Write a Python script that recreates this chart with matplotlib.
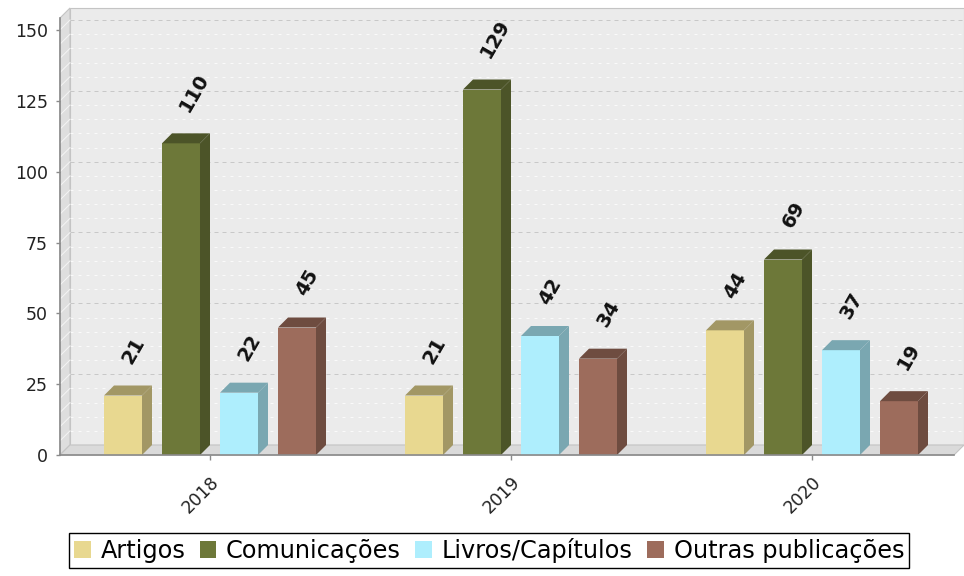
import matplotlib
matplotlib.use("Agg")
import matplotlib.pyplot as plt
from matplotlib.patches import Rectangle, Polygon, Patch
from matplotlib.colors import to_rgb

# ---------------- data ----------------
years = ["2018", "2019", "2020"]
series_names = ["Artigos", "Comunicações", "Livros/Capítulos", "Outras publicações"]
artigos = [21, 21, 44]
comunicacoes = [110, 129, 69]
livros = [22, 42, 37]
outras = [45, 34, 19]
series_values = [artigos, comunicacoes, livros, outras]
series_colors = ["#E8D890", "#6D7839", "#AEEEFD", "#9D6C5C"]
y_ticks = [0, 25, 50, 75, 100, 125, 150]

# ---------------- layout ----------------
W, H = 964, 576
DPI = 100
PX = 72.0 / DPI  # points per pixel

fig = plt.figure(figsize=(W / DPI, H / DPI), dpi=DPI)
fig.patch.set_facecolor("white")

ax_l, ax_r, ax_t, ax_b = 60, 954, 18, 455
ax = fig.add_axes([ax_l / W, (H - ax_b) / H, (ax_r - ax_l) / W, (ax_b - ax_t) / H])
ax.patch.set_alpha(0)

cat_px = 301.0
y_px_per_unit = 425.0 / 150.0
xmin = -(210 - ax_l) / cat_px
xmax = (ax_r - 210) / cat_px
ymax = (ax_b - ax_t) / y_px_per_unit
ax.set_xlim(xmin, xmax)
ax.set_ylim(0, ymax)

# depth of the 3D effect (10 px) converted to data units through the axes transform
p0 = ax.transData.transform((0, 0))
p1 = ax.transData.transform((1, 1))
ppx = p1[0] - p0[0]
ppy = p1[1] - p0[1]
depth_px = 10.0
ddx = depth_px / ppx
ddy = depth_px / ppy

# ---------------- walls ----------------
wall_edge = "#c4c4c4"
back = Rectangle((xmin + ddx, ddy), xmax - xmin, ymax, facecolor="#EBEBEB",
                 edgecolor=wall_edge, lw=0.8, zorder=0, clip_on=False)
ax.add_patch(back)
left_wall = Polygon([(xmin, 0), (xmin, ymax), (xmin + ddx, ymax + ddy), (xmin + ddx, ddy)],
                    closed=True, facecolor="#DEDEDE", edgecolor=wall_edge, lw=0.8,
                    zorder=0.5, clip_on=False)
ax.add_patch(left_wall)
floor = Polygon([(xmin, 0), (xmin + ddx, ddy), (xmax + ddx, ddy), (xmax, 0)],
                closed=True, facecolor="#DADADA", edgecolor=wall_edge, lw=0.8,
                zorder=0.5, clip_on=False)
ax.add_patch(floor)

# gridlines on the back wall (major gray dashed, minor white dashed)
for v in range(5, 155, 5):
    major = (v % 25 == 0)
    col = "#C8C8C8" if major else "#FAFAFA"
    ls = (0, (4, 4)) if major else (0, (3, 5))
    ax.plot([xmin + ddx, xmax + ddx], [v + ddy, v + ddy], color=col, lw=PX,
            linestyle=ls, zorder=0.3, clip_on=False)
    ax.plot([xmin, xmin + ddx], [v, v + ddy], color="#F4F4F4", lw=PX,
            zorder=0.6, clip_on=False)

# ---------------- bars ----------------
bar_w = 38.0 / cat_px
spacing = 58.0 / cat_px
n = len(series_values)


def darker(c, f=0.7):
    r, g, b = to_rgb(c)
    return (r * f, g * f, b * f)


for i, (vals, col) in enumerate(zip(series_values, series_colors)):
    offs = (i - (n - 1) / 2.0) * spacing
    xs = [j + offs for j in range(len(years))]
    ax.bar(xs, vals, width=bar_w, color=col, edgecolor="none", zorder=3)
    dc = darker(col)
    for xc, v in zip(xs, vals):
        x0, x1 = xc - bar_w / 2, xc + bar_w / 2
        top = Polygon([(x0, v), (x1, v), (x1 + ddx, v + ddy), (x0 + ddx, v + ddy)],
                      closed=True, facecolor=dc, edgecolor="none", zorder=3, clip_on=False)
        side = Polygon([(x1, 0), (x1, v), (x1 + ddx, v + ddy), (x1 + ddx, ddy)],
                       closed=True, facecolor=dc, edgecolor="none", zorder=3, clip_on=False)
        ax.add_patch(top)
        ax.add_patch(side)
        ax.annotate(str(v), xy=(xc, v), xytext=(3.5 * PX, 33 * PX),
                    textcoords="offset points", rotation=60, rotation_mode="anchor",
                    ha="left", va="center", fontsize=14, fontweight="bold",
                    color="#111111", zorder=5, annotation_clip=False)

# ---------------- axes styling ----------------
for s in ["top", "right"]:
    ax.spines[s].set_visible(False)
ax.spines["left"].set_color("#8a8a8a")
ax.spines["bottom"].set_color("#8a8a8a")
ax.spines["left"].set_linewidth(1.2)
ax.spines["bottom"].set_linewidth(1.2)
ax.spines["left"].set_zorder(4)
ax.spines["bottom"].set_zorder(4)

ax.set_yticks(y_ticks)
ax.set_yticklabels([str(t) for t in y_ticks])
ax.tick_params(axis="y", length=4 * PX, width=1, color="#8a8a8a", pad=8 * PX,
               labelsize=12.5, labelcolor="#222222")

ax.set_xticks(range(len(years)))
ax.set_xticklabels(years)
ax.tick_params(axis="x", length=5 * PX, width=1, color="#8a8a8a", pad=13 * PX,
               labelsize=12.5, labelcolor="#222222", labelrotation=45)
plt.setp(ax.get_xticklabels(), ha="right", va="top", rotation_mode="anchor")

# ---------------- legend ----------------
handles = [Patch(facecolor=c, edgecolor="none") for c in series_colors]
leg = fig.legend(handles, series_names, loc="center",
                 bbox_to_anchor=(489 / W, 1 - 550.5 / H), ncol=4, frameon=True,
                 fancybox=False, edgecolor="black", framealpha=1, fontsize=17.3,
                 handlelength=0.7, handleheight=0.7, handletextpad=0.4,
                 columnspacing=0.6, borderpad=0.2, borderaxespad=0)
leg.get_frame().set_linewidth(1.0)

fig.savefig("out.png", dpi=DPI)
